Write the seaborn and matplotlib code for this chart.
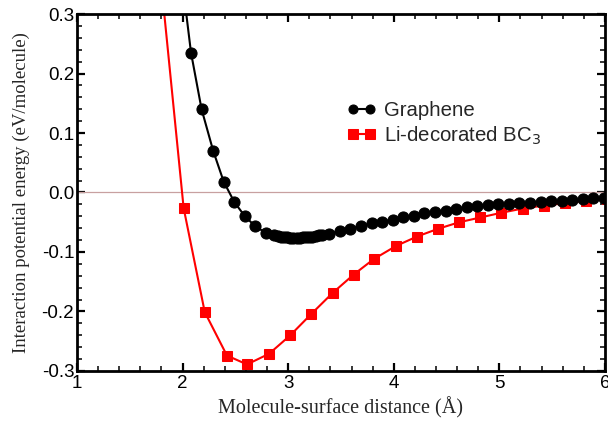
import matplotlib
matplotlib.use("Agg")
import matplotlib.pyplot as plt
import seaborn as sns
import pandas as pd
from matplotlib.ticker import MultipleLocator

graphene_x = [1.98, 2.08, 2.18, 2.29, 2.39, 2.49, 2.59, 2.69, 2.79, 2.87, 2.90, 2.93,
              2.96, 2.99, 3.02, 3.05, 3.08, 3.11, 3.14, 3.17, 3.20, 3.23, 3.26, 3.29,
              3.32, 3.39, 3.49, 3.59, 3.69, 3.79, 3.89, 3.99, 4.09, 4.19, 4.29, 4.39,
              4.49, 4.59, 4.69, 4.79, 4.89, 4.99, 5.09, 5.19, 5.29, 5.39, 5.49, 5.59,
              5.69, 5.79, 5.89, 5.99]
graphene_y = [0.38, 0.235, 0.140, 0.070, 0.018, -0.016, -0.040, -0.057, -0.068, -0.072,
              -0.073, -0.074, -0.075, -0.075, -0.076, -0.076, -0.076, -0.076, -0.075,
              -0.075, -0.074, -0.074, -0.073, -0.072, -0.071, -0.069, -0.065, -0.061,
              -0.056, -0.052, -0.049, -0.046, -0.042, -0.039, -0.035, -0.032, -0.031,
              -0.027, -0.025, -0.023, -0.021, -0.020, -0.019, -0.018, -0.017, -0.016,
              -0.015, -0.014, -0.013, -0.011, -0.010, -0.010]

bc3_x = [1.81, 2.01, 2.21, 2.42, 2.61, 2.82, 3.02, 3.22, 3.42, 3.62, 3.81, 4.02,
         4.22, 4.42, 4.62, 4.82, 5.02, 5.22, 5.42, 5.62, 5.82, 6.02]
bc3_y = [0.33, -0.026, -0.201, -0.274, -0.289, -0.271, -0.240, -0.204, -0.169, -0.138,
         -0.112, -0.090, -0.074, -0.061, -0.050, -0.042, -0.034, -0.027, -0.022,
         -0.018, -0.014, -0.011]

x_ticks = [1, 2, 3, 4, 5, 6]
y_ticks = [-0.3, -0.2, -0.1, 0.0, 0.1, 0.2, 0.3]

sns.set_style("ticks")
plt.rcParams["axes.unicode_minus"] = False
plt.rcParams["font.family"] = ["Liberation Sans", "DejaVu Sans"]
serif = ["Liberation Serif", "DejaVu Serif"]

fig = plt.figure(figsize=(6.08, 4.22), dpi=100)
ax = fig.add_axes([0.1266, 0.1209, 0.8684, 0.8459])

ax.axhline(0.0, color="#c8a0a0", lw=0.9, zorder=1)

df_g = pd.DataFrame({"x": graphene_x, "y": graphene_y})
df_b = pd.DataFrame({"x": bc3_x, "y": bc3_y})

sns.lineplot(data=df_g, x="x", y="y", ax=ax, color="black", lw=1.5, marker="o",
             markersize=8, markeredgecolor="black", sort=False, label="Graphene",
             zorder=3)
sns.lineplot(data=df_b, x="x", y="y", ax=ax, color="#ff0000", lw=1.5, marker="s",
             markersize=6.6, markeredgecolor="#ff0000", sort=False,
             label="Li-decorated BC$_3$", zorder=2)

ax.set_xlim(1, 6)
ax.set_ylim(-0.3, 0.3)
ax.set_xticks(x_ticks)
ax.set_yticks(y_ticks)
ax.set_xticklabels([str(t) for t in x_ticks])
ax.set_yticklabels([f"{t:.1f}" for t in y_ticks])
ax.xaxis.set_minor_locator(MultipleLocator(0.2))
ax.yaxis.set_minor_locator(MultipleLocator(0.02))
ax.tick_params(which="major", direction="in", length=6, width=1.6, top=True,
               right=True, labelsize=13.5, colors="black")
ax.tick_params(axis="x", which="major", pad=3)
ax.tick_params(axis="y", which="major", pad=2)
ax.tick_params(which="minor", direction="in", length=3.5, width=1.3, top=True,
               right=True)
for s in ax.spines.values():
    s.set_linewidth(2)
    s.set_color("black")

ax.set_xlabel("Molecule-surface distance (Å)", family=serif, fontsize=14.5)
ax.set_ylabel("Interaction potential energy (eV/molecule)", family=serif,
              fontsize=13.5)
ax.xaxis.set_label_coords(0.5, -0.072)
ax.yaxis.set_label_coords(-0.089, 0.5)

leg = ax.legend(loc="upper left", bbox_to_anchor=(0.511, 0.755), frameon=False,
                fontsize=14.7, handlelength=1.45, handletextpad=0.35, borderpad=0,
                borderaxespad=0, labelspacing=0.2, numpoints=2)
for h in leg.legend_handles:
    h.set_markersize(6.5)

fig.savefig("out.png", dpi=100)
